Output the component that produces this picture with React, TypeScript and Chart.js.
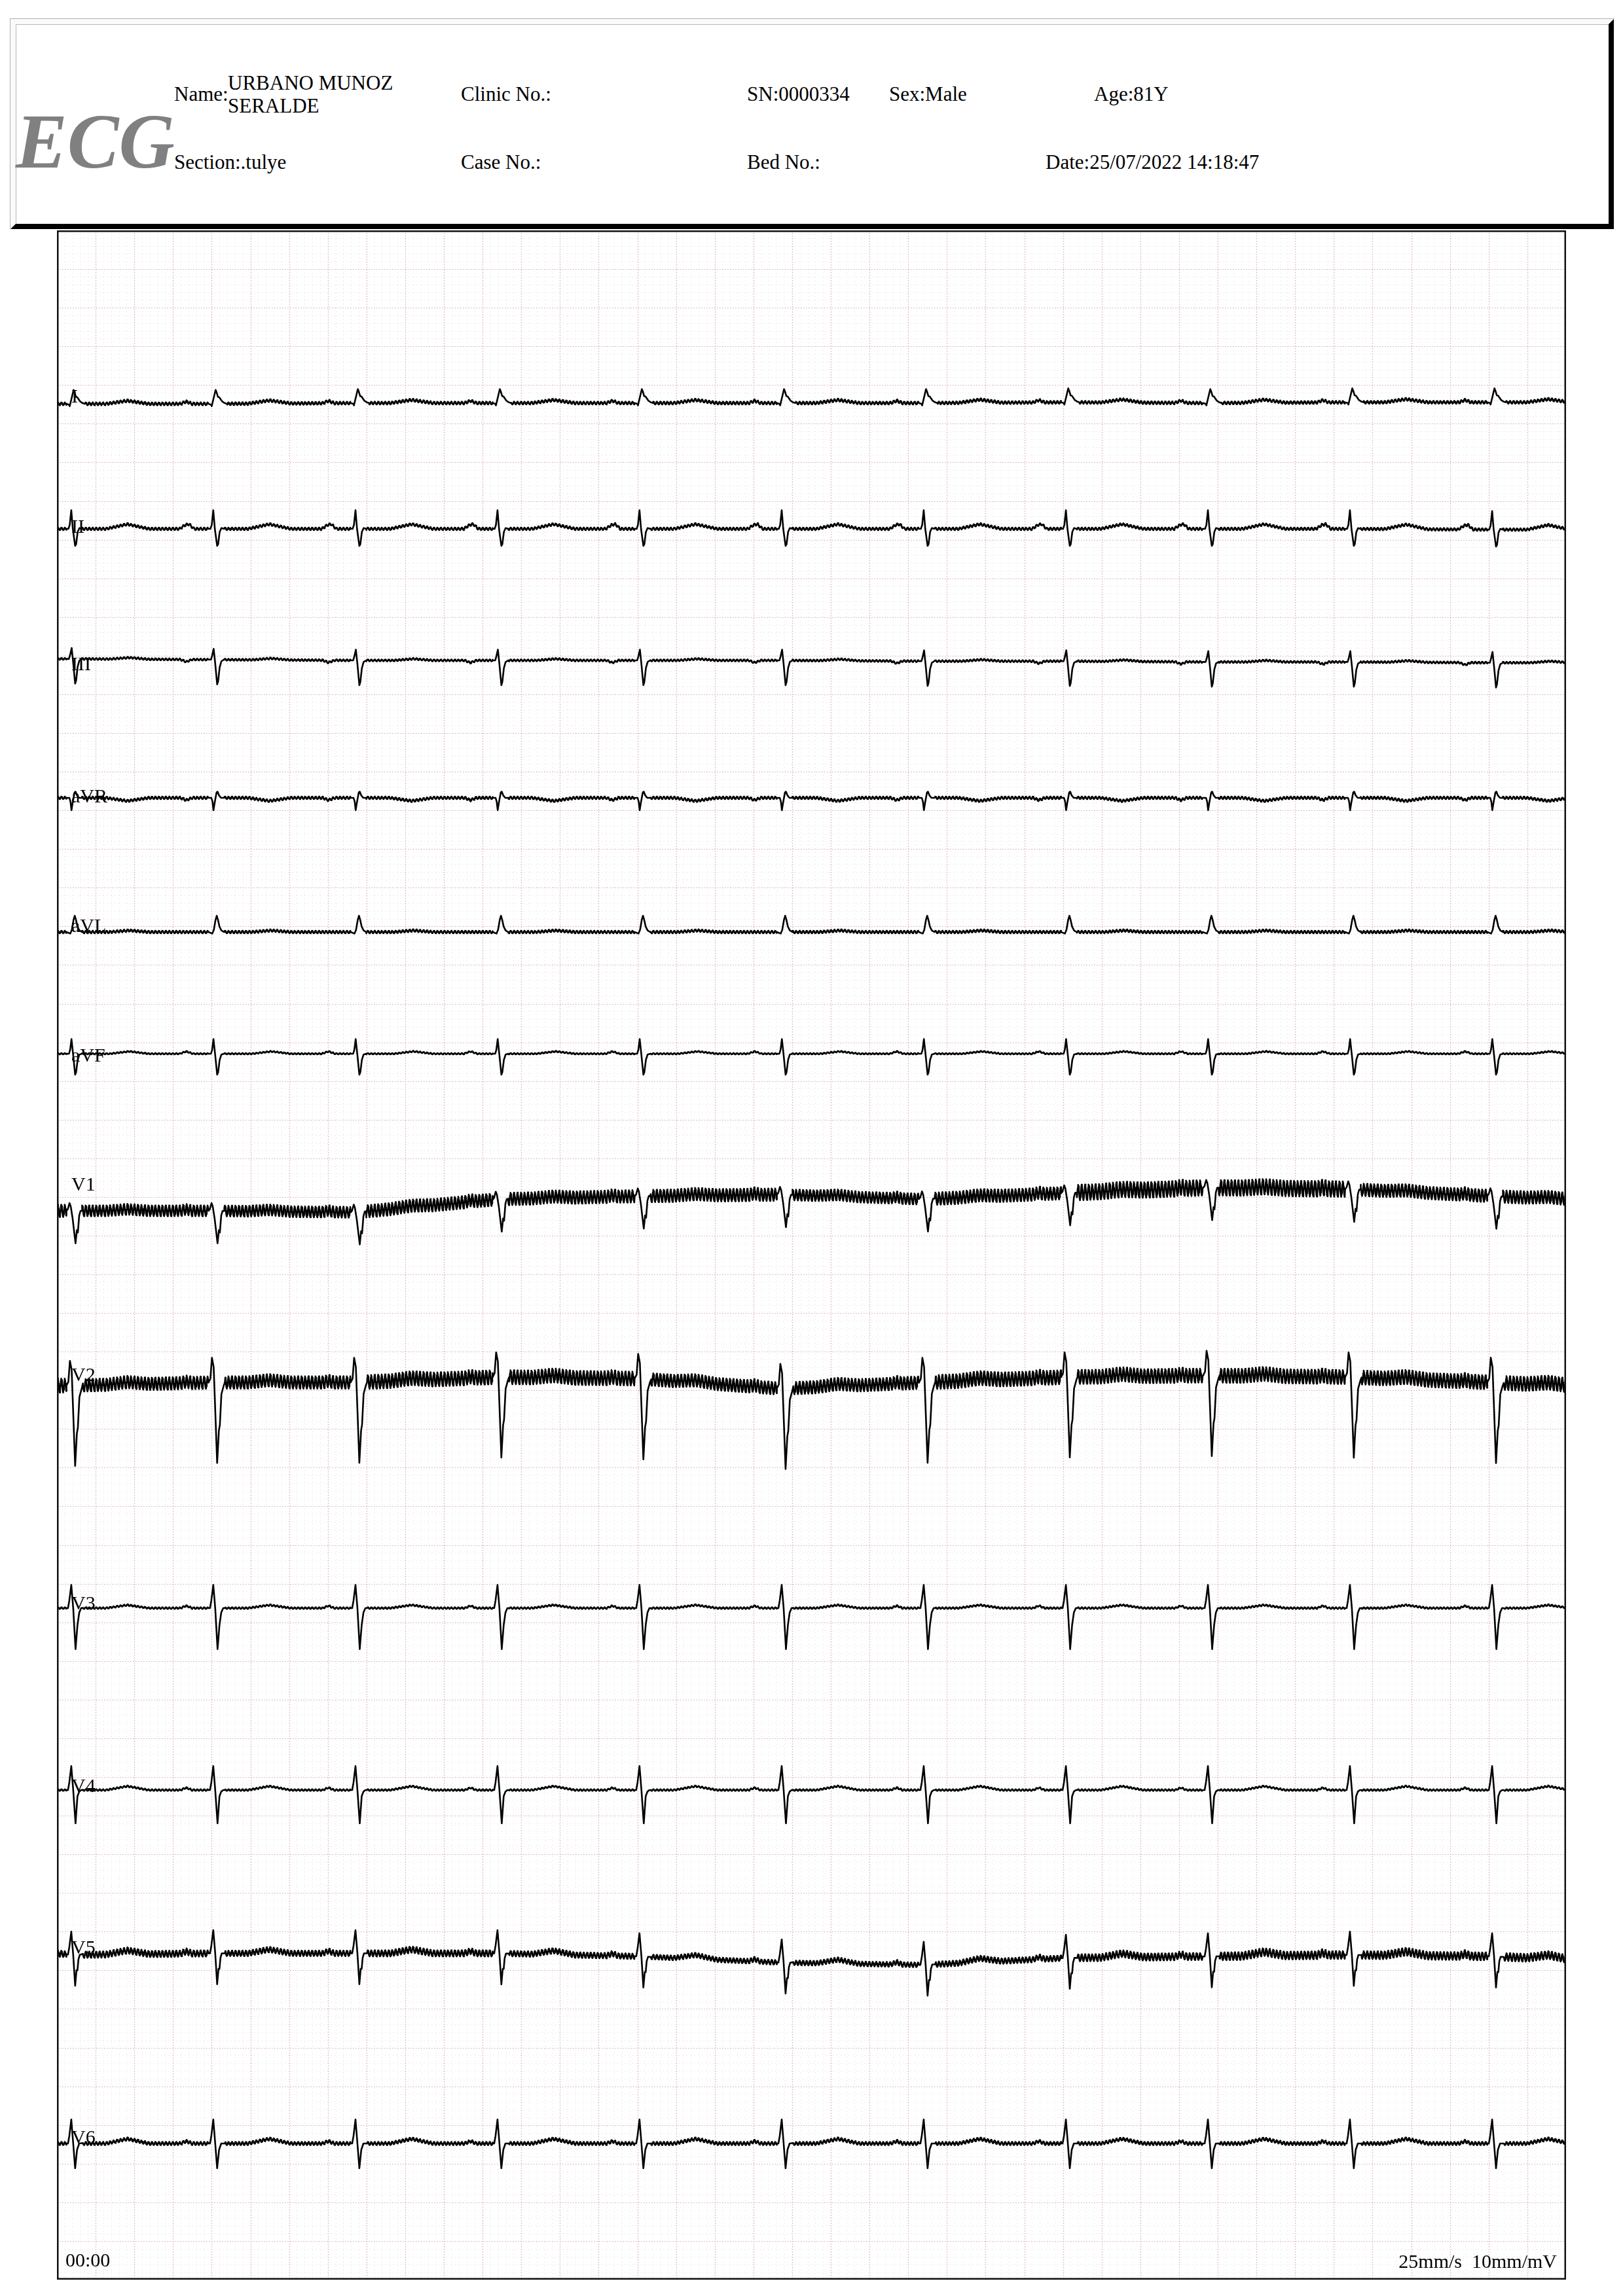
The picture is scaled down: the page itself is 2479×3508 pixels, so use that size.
import React, { useEffect, useRef } from "react";
import { Chart, registerables } from "chart.js";

Chart.register(...registerables);

// ---------------- data read from the recording ----------------
const LEADS = ["I", "II", "III", "aVR", "aVL", "aVF", "V1", "V2", "V3", "V4", "V5", "V6"];
const RECORD_S = 7.8; // 195 mm at 25 mm/s
// lead-II R-peak times (s)
const R_TIMES_S = [0.074, 0.808, 1.543, 2.277, 3.011, 3.746, 4.48, 5.215, 5.949, 6.683, 7.418];

// QRS shapes: [ms from R, mV]
const QRS_I = [[-25, 0], [-12, -0.01], [-8, -0.03], [12, 0.18], [17, 0.15], [24, 0.09], [31, 0.085], [46, 0.03], [58, 0.01], [70, 0]];
const QRS_II = [[-25, 0], [-15, 0], [-8, 0.05], [0, 0.24], [8, 0], [20, -0.22], [25, -0.2], [33, -0.04], [42, 0.01], [55, 0]];
const QRS_III = [[-25, 0], [-12, 0], [-6, 0.05], [2, 0.14], [10, -0.05], [20, -0.32], [25, -0.28], [33, -0.1], [42, -0.02], [55, 0]];
const QRS_AVR = [[-25, 0], [-10, 0], [-4, -0.05], [1, -0.16], [8, -0.05], [17, 0.07], [22, 0.08], [30, 0.03], [40, 0], [55, 0]];
const QRS_AVL = [[-25, 0], [-5, -0.02], [3, 0.03], [12, 0.16], [18, 0.21], [24, 0.16], [32, 0.07], [42, 0.02], [55, 0]];
const QRS_AVF = [[-25, 0], [-12, 0], [-6, 0.05], [1, 0.19], [10, -0.02], [20, -0.27], [25, -0.24], [33, -0.08], [42, -0.01], [55, 0]];
const QRS_V1 = [[-25, 0], [-18, 0.02], [-9, 0.1], [-3, 0.06], [7, -0.1], [22, -0.42], [29, -0.25], [34, -0.28], [41, -0.06], [48, 0], [55, 0]];
const QRS_V2 = [[-25, 0], [-15, 0.05], [-7, 0.32], [2, 0.2], [20, -1.04], [29, -0.62], [34, -0.55], [42, -0.15], [54, -0.04], [60, 0]];
const QRS_V3 = [[-25, 0], [-17, 0], [-10, 0.1], [0, 0.3], [10, 0], [22, -0.53], [32, -0.22], [41, -0.06], [51, 0], [60, 0]];
const QRS_V4 = [[-25, 0], [-17, 0], [-10, 0.1], [0, 0.31], [10, 0], [22, -0.43], [32, -0.08], [41, -0.02], [51, 0], [60, 0]];
const QRS_V5 = [[-25, 0], [-17, 0], [-10, 0.1], [0, 0.3], [10, 0], [20, -0.4], [27, -0.2], [32, -0.2], [37, -0.06], [44, 0], [60, 0]];
const QRS_V6 = [[-25, 0], [-17, 0], [-10, 0.1], [0, 0.31], [10, 0], [20, -0.32], [30, -0.08], [41, 0], [60, 0]];

// P and T waves: [ms from R, mV]
const PT_I = [[-170, 0], [-140, 0.03], [-110, 0], [180, 0], [290, 0.04], [400, 0]];
const PT_II = [[-175, 0], [-145, 0.05], [-125, 0.06], [-100, 0], [180, 0], [290, 0.06], [400, 0]];
const PT_III = [[-170, 0], [-140, -0.03], [-110, 0], [200, 0], [300, 0.02], [400, 0]];
const PT_AVR = [[-170, 0], [-140, -0.03], [-110, 0], [180, 0], [290, -0.04], [400, 0]];
const PT_AVL = [[200, 0], [300, 0.02], [400, 0]];
const PT_AVF = [[-175, 0], [-140, 0.03], [-105, 0], [200, 0], [300, 0.03], [400, 0]];
const PT_V1 = [[-170, 0], [-140, 0.02], [-110, 0], [180, 0], [290, 0.02], [400, 0]];
const PT_V2 = [[-170, 0], [-140, 0.02], [-110, 0], [180, 0], [290, 0.03], [400, 0]];
const PT_V3 = [[-170, 0], [-140, 0.03], [-110, 0], [180, 0], [290, 0.04], [400, 0]];
const PT_V4 = [[-170, 0], [-140, 0.03], [-110, 0], [180, 0], [290, 0.05], [400, 0]];
const PT_V5 = [[-170, 0], [-140, 0.03], [-110, 0], [180, 0], [290, 0.05], [400, 0]];
const PT_V6 = [[-170, 0], [-140, 0.03], [-110, 0], [180, 0], [290, 0.06], [400, 0]];

// baseline wander (mV) at t=0, each R, and t=end
const DRIFT_I = [0, 0, 0, 0.01, 0.01, 0.01, 0.01, 0.01, 0.02, 0.01, 0.02, 0.02, 0.02];
const DRIFT_II = [0, 0, 0, 0, 0, 0, 0, 0, 0, 0, 0, -0.01, -0.01];
const DRIFT_III = [0.02, 0.02, 0.01, 0, 0, 0, 0, -0.01, -0.01, -0.02, -0.02, -0.03, -0.03];
const DRIFT_AVR = [0, 0, 0, 0, 0, 0, 0, 0, 0, 0, 0, 0, 0];
const DRIFT_AVL = [0, 0, 0, 0, 0, 0, 0, 0, 0, 0, 0, 0, 0];
const DRIFT_AVF = [0, 0, 0, 0, 0, 0, 0, 0, 0, 0, 0, 0, 0];
const DRIFT_V1 = [0, 0, 0, -0.02, 0.15, 0.19, 0.21, 0.15, 0.23, 0.3, 0.28, 0.19, 0.15];
const DRIFT_V2 = [0, 0, 0.04, 0.04, 0.11, 0.09, -0.04, 0.04, 0.11, 0.13, 0.11, 0.04, 0];
const DRIFT_V3 = [0, 0, 0, 0, 0, 0, 0, 0, 0, 0, 0, 0, 0];
const DRIFT_V4 = [0, 0, 0, 0, 0, 0, 0, 0, 0, 0, 0, 0, 0];
const DRIFT_V5 = [0.03, 0.01, 0.03, 0.03, 0.03, -0.01, -0.09, -0.12, -0.03, -0.01, 0.01, -0.01, -0.05];
const DRIFT_V6 = [0, 0, 0, 0, 0, 0, 0, 0, 0, 0, 0, 0, 0];

// mains interference amplitude (mV) per interval between the knots above
const HUM_I = [0.018, 0.018, 0.018, 0.018, 0.018, 0.018, 0.018, 0.018, 0.018, 0.018, 0.018, 0.018];
const HUM_II = [0.016, 0.016, 0.016, 0.016, 0.016, 0.016, 0.016, 0.016, 0.016, 0.016, 0.016, 0.016];
const HUM_III = [0.012, 0.012, 0.012, 0.012, 0.012, 0.012, 0.012, 0.012, 0.012, 0.012, 0.012, 0.012];
const HUM_AVR = [0.016, 0.016, 0.016, 0.016, 0.016, 0.016, 0.016, 0.016, 0.016, 0.016, 0.016, 0.016];
const HUM_AVL = [0.016, 0.016, 0.016, 0.016, 0.016, 0.016, 0.016, 0.016, 0.016, 0.016, 0.016, 0.016];
const HUM_AVF = [0.008, 0.008, 0.008, 0.008, 0.008, 0.008, 0.008, 0.008, 0.008, 0.008, 0.008, 0.008];
const HUM_V1 = [0.08, 0.07, 0.07, 0.08, 0.08, 0.08, 0.07, 0.08, 0.1, 0.1, 0.08, 0.08];
const HUM_V2 = [0.09, 0.08, 0.08, 0.09, 0.09, 0.08, 0.08, 0.09, 0.09, 0.09, 0.09, 0.09];
const HUM_V3 = [0.01, 0.01, 0.01, 0.01, 0.01, 0.01, 0.01, 0.01, 0.01, 0.01, 0.01, 0.01];
const HUM_V4 = [0.01, 0.01, 0.01, 0.01, 0.01, 0.01, 0.01, 0.01, 0.01, 0.01, 0.01, 0.01];
const HUM_V5 = [0.04, 0.04, 0.035, 0.04, 0.035, 0.03, 0.03, 0.035, 0.045, 0.05, 0.05, 0.05];
const HUM_V6 = [0.02, 0.02, 0.02, 0.02, 0.02, 0.02, 0.02, 0.02, 0.02, 0.02, 0.02, 0.02];
// one cycle of the interference wave (relative), sampled every 2 ms
const HUM_CYCLE = [0, 0.6, 1, 0.8, 0.3, -0.3, -0.8, -1, -0.6];

const QRS = [QRS_I, QRS_II, QRS_III, QRS_AVR, QRS_AVL, QRS_AVF, QRS_V1, QRS_V2, QRS_V3, QRS_V4, QRS_V5, QRS_V6];
const PT = [PT_I, PT_II, PT_III, PT_AVR, PT_AVL, PT_AVF, PT_V1, PT_V2, PT_V3, PT_V4, PT_V5, PT_V6];
const DRIFT = [DRIFT_I, DRIFT_II, DRIFT_III, DRIFT_AVR, DRIFT_AVL, DRIFT_AVF, DRIFT_V1, DRIFT_V2, DRIFT_V3, DRIFT_V4, DRIFT_V5, DRIFT_V6];
const HUM = [HUM_I, HUM_II, HUM_III, HUM_AVR, HUM_AVL, HUM_AVF, HUM_V1, HUM_V2, HUM_V3, HUM_V4, HUM_V5, HUM_V6];

// ---------------- layout ----------------
const PAGE_W = 2479;
const PAGE_H = 3508;
const CH_LEFT = 87;
const CH_TOP = 352;
const CH_W = 2305;
const CH_H = 3131;
const PAPER_H_MM = 265;
const SPEED = 25; // mm/s
const GAIN = 10; // mm/mV
const SAMPLE_MS = 2;
const LEAD_BASE_PX = [617, 808, 1009, 1219, 1424, 1610, 1850, 2117, 2457, 2735, 2988, 3275];
const LABEL_BASE_PX = [615, 814, 1024, 1226, 1424, 1622, 1819, 2110, 2459, 2738, 2985, 3275];
const MM = CH_H / PAPER_H_MM;

const FONT = '"Liberation Serif", "Times New Roman", serif';

function knotValue(knots: number[][], x: number): number {
  if (x <= knots[0][0] || x >= knots[knots.length - 1][0]) return 0;
  for (let i = 1; i < knots.length; i++) {
    if (x <= knots[i][0]) {
      const [x0, y0] = knots[i - 1];
      const [x1, y1] = knots[i];
      if (x1 === x0) return y1;
      return y0 + ((y1 - y0) * (x - x0)) / (x1 - x0);
    }
  }
  return 0;
}

const KNOT_T = [0, ...R_TIMES_S, RECORD_S];

function segOf(t: number): number {
  for (let j = 0; j < KNOT_T.length - 1; j++) if (t <= KNOT_T[j + 1]) return j;
  return KNOT_T.length - 2;
}

function buildLead(li: number) {
  const qrs = QRS[li];
  const pt = PT[li];
  const drift = DRIFT[li];
  const hum = HUM[li];
  const qS = qrs[0][0];
  const qE = qrs[qrs.length - 1][0];
  const baseAt = (t: number) => {
    const j = segOf(t);
    const t0 = KNOT_T[j];
    const t1 = KNOT_T[j + 1];
    return drift[j] + ((drift[j + 1] - drift[j]) * (t - t0)) / (t1 - t0);
  };
  const pts: { x: number; y: number }[] = [];
  const n = Math.round((RECORD_S * 1000) / SAMPLE_MS);
  for (let i = 0; i <= n; i++) {
    const t = (i * SAMPLE_MS) / 1000;
    let inQrs = false;
    let wave = 0;
    for (const r of R_TIMES_S) {
      const d = (t - r) * 1000;
      if (d > qS && d < qE) inQrs = true;
      wave += knotValue(pt, d);
    }
    if (inQrs) continue;
    const v = baseAt(t) + wave + hum[segOf(t)] * HUM_CYCLE[i % HUM_CYCLE.length];
    pts.push({ x: t, y: v });
  }
  for (const r of R_TIMES_S) {
    for (const [ms, mv] of qrs) {
      const t = r + ms / 1000;
      if (t < 0 || t > RECORD_S) continue;
      pts.push({ x: t, y: baseAt(t) + mv });
    }
  }
  pts.sort((a, b) => a.x - b.x);
  const baseMm = (LEAD_BASE_PX[li] - CH_TOP) / MM;
  return pts.map((p) => ({ x: p.x, y: baseMm - p.y * GAIN }));
}

const gridPlugin = {
  id: "ecgGrid",
  beforeDatasetsDraw(chart: any) {
    const { ctx, chartArea, scales } = chart;
    const xs = scales.x;
    const ys = scales.y;
    ctx.save();
    const wMm = Math.round(RECORD_S * SPEED);
    // minor lines
    ctx.lineWidth = 1;
    ctx.strokeStyle = "rgba(195,180,184,0.5)";
    ctx.setLineDash([1, 4.9]);
    for (let m = 1; m < wMm; m++) {
      if (m % 5 === 0) continue;
      const x = Math.round(xs.getPixelForValue(m / SPEED)) + 0.5;
      ctx.beginPath();
      ctx.moveTo(x, chartArea.top);
      ctx.lineTo(x, chartArea.bottom);
      ctx.stroke();
    }
    for (let m = 1; m < PAPER_H_MM; m++) {
      if (m % 5 === 0) continue;
      const y = Math.round(ys.getPixelForValue(m)) + 0.5;
      ctx.beginPath();
      ctx.moveTo(chartArea.left, y);
      ctx.lineTo(chartArea.right, y);
      ctx.stroke();
    }
    // major lines
    ctx.lineWidth = 1.2;
    ctx.strokeStyle = "rgba(208,150,162,0.8)";
    ctx.setLineDash([1.6, 2.4]);
    for (let m = 5; m < wMm; m += 5) {
      const x = Math.round(xs.getPixelForValue(m / SPEED)) + 0.5;
      ctx.beginPath();
      ctx.moveTo(x, chartArea.top);
      ctx.lineTo(x, chartArea.bottom);
      ctx.stroke();
    }
    for (let m = 5; m < PAPER_H_MM; m += 5) {
      const y = Math.round(ys.getPixelForValue(m)) + 0.5;
      ctx.beginPath();
      ctx.moveTo(chartArea.left, y);
      ctx.lineTo(chartArea.right, y);
      ctx.stroke();
    }
    ctx.restore();
  },
  afterDatasetsDraw(chart: any) {
    const { ctx, chartArea } = chart;
    ctx.save();
    ctx.setLineDash([]);
    ctx.lineWidth = 2.5;
    ctx.strokeStyle = "#111";
    ctx.strokeRect(chartArea.left + 1.25, chartArea.top + 1.25, chartArea.right - chartArea.left - 2.5, chartArea.bottom - chartArea.top - 2.5);
    ctx.restore();
  },
};

function Txt(props: { x: number; y: number; size: number; children: React.ReactNode; style?: React.CSSProperties; right?: boolean }) {
  const { x, y, size, children, style, right } = props;
  const pos: React.CSSProperties = right ? { right: PAGE_W - x } : { left: x };
  return (
    <div
      style={{
        position: "absolute",
        top: y - 0.8375 * size,
        ...pos,
        fontFamily: FONT,
        fontSize: size,
        lineHeight: `${size}px`,
        whiteSpace: "pre",
        color: "#000",
        ...style,
      }}
    >
      {children}
    </div>
  );
}

export default function App() {
  const ref = useRef<HTMLCanvasElement | null>(null);
  useEffect(() => {
    if (!ref.current) return;
    const datasets = LEADS.map((name, li) => ({
      label: name,
      data: buildLead(li),
      borderColor: "#000",
      borderWidth: 2.6,
      pointRadius: 0,
      tension: 0,
      fill: false,
      borderJoinStyle: "round" as const,
      borderCapStyle: "round" as const,
    }));
    const chart = new Chart(ref.current, {
      type: "line",
      data: { datasets },
      options: {
        animation: false,
        responsive: false,
        devicePixelRatio: 1,
        parsing: false,
        normalized: true,
        events: [],
        layout: { padding: 0 },
        plugins: { legend: { display: false }, tooltip: { enabled: false }, title: { display: false } },
        scales: {
          x: { type: "linear", min: 0, max: RECORD_S, display: false },
          y: { type: "linear", min: 0, max: PAPER_H_MM, reverse: true, display: false },
        },
      },
      plugins: [gridPlugin],
    });
    return () => chart.destroy();
  }, []);

  const hdr = 31;
  return (
    <div style={{ position: "absolute", left: 0, top: 0, width: PAGE_W, height: PAGE_H, background: "#fff", overflow: "hidden" }}>
      {/* header frame */}
      <div
        style={{
          position: "absolute",
          left: 15,
          top: 28,
          width: 2450,
          height: 322,
          boxSizing: "border-box",
          borderTop: "1px solid #b0b0b0",
          borderLeft: "1px solid #b0b0b0",
        }}
      >
        <div
          style={{
            position: "absolute",
            left: 0,
            top: 0,
            right: 0,
            bottom: 0,
            boxSizing: "border-box",
            borderStyle: "solid",
            borderWidth: 8,
            borderColor: "#fafafa #000 #000 #fafafa",
          }}
        >
          <div style={{ position: "absolute", left: 0, top: 0, right: 0, bottom: 0, borderTop: "1px solid #b8b8b8", borderLeft: "1px solid #b8b8b8" }} />
        </div>
      </div>
      <Txt x={24} y={257} size={118} style={{ fontStyle: "italic", fontWeight: "bold", color: "#808080" }}>
        ECG
      </Txt>
      <Txt x={266} y={154} size={hdr}>Name:</Txt>
      <Txt x={348} y={137} size={hdr}>URBANO MUNOZ</Txt>
      <Txt x={348} y={172} size={hdr}>SERALDE</Txt>
      <Txt x={704} y={154} size={hdr}>Clinic No.:</Txt>
      <Txt x={1141} y={154} size={hdr}>SN:0000334</Txt>
      <Txt x={1358} y={154} size={hdr}>Sex:Male</Txt>
      <Txt x={1671} y={154} size={hdr}>Age:81Y</Txt>
      <Txt x={266} y={258} size={hdr}>Section:.tulye</Txt>
      <Txt x={704} y={258} size={hdr}>Case No.:</Txt>
      <Txt x={1141} y={258} size={hdr}>Bed No.:</Txt>
      <Txt x={1597} y={258} size={hdr}>Date:25/07/2022 14:18:47</Txt>

      <canvas ref={ref} width={CH_W} height={CH_H} style={{ position: "absolute", left: CH_LEFT, top: CH_TOP, width: CH_W, height: CH_H }} />

      {LEADS.map((name, li) => (
        <Txt key={name} x={109} y={LABEL_BASE_PX[li]} size={30}>
          {name}
        </Txt>
      ))}
      <Txt x={100} y={3463} size={30}>00:00</Txt>
      <Txt x={2378} y={3465} size={30} right>
        {"25mm/s  10mm/mV"}
      </Txt>
    </div>
  );
}
